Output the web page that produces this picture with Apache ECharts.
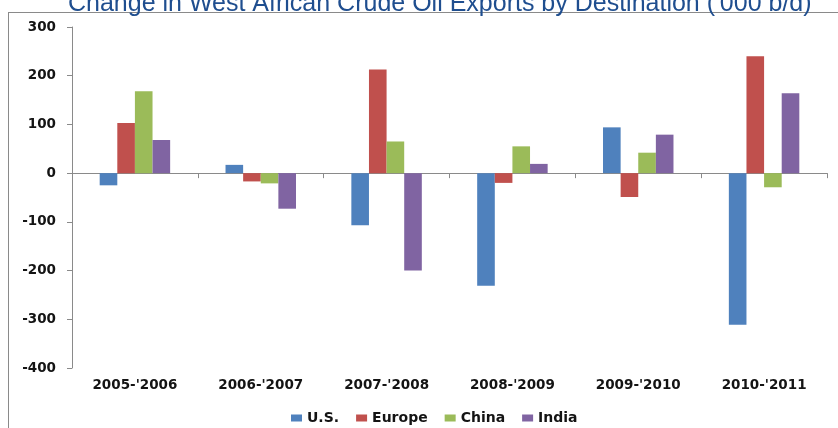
<!DOCTYPE html>
<html>
<head>
<meta charset="utf-8">
<script src="https://cdn.jsdelivr.net/npm/echarts@6/dist/echarts.min.js"></script>
<style>
  html, body { margin: 0; padding: 0; background: #fff; }
  #chart { width: 838px; height: 428px; }
</style>
</head>
<body>
<div id="chart"></div>
<script>
// Year-over-year change in exports, thousand barrels per day
const periods = ["2005-'2006", "2006-'2007", "2007-'2008", "2008-'2009", "2009-'2010", "2010-'2011"];
const usValues     = [-25,  17, -107, -231,  94, -311];
const europeValues = [103, -17,  213,  -20, -49,  240];
const chinaValues  = [168, -21,   65,   55,  42,  -29];
const indiaValues  = [ 68, -73, -200,   19,  79,  164];
const seriesNames  = ['U.S.', 'Europe', 'China', 'India'];
const seriesColors = ['#4F81BD', '#C0504D', '#9BBB59', '#8064A2'];

const chart = echarts.init(document.getElementById('chart'), null, { renderer: 'canvas' });
const labelFont = { fontFamily: '"DejaVu Sans", Verdana, sans-serif', fontWeight: 'bold', fontSize: 13.5, color: '#141414' };
const values = [usValues, europeValues, chinaValues, indiaValues];

chart.setOption({
  animation: false,
  backgroundColor: '#ffffff',
  title: {
    text: "Change in West African Crude Oil Exports by Destination ('000 b/d)",
    left: 63,
    top: -13,
    textStyle: { fontFamily: '"Liberation Sans", Arial, sans-serif', fontWeight: 'normal', fontSize: 25, color: '#1F4E8F' }
  },
  graphic: [
    { type: 'line', shape: { x1: 8, y1: 12.5, x2: 838, y2: 12.5 }, style: { stroke: '#8a8a8a', lineWidth: 1 }, silent: true },
    { type: 'line', shape: { x1: 8.5, y1: 12, x2: 8.5, y2: 428 }, style: { stroke: '#8a8a8a', lineWidth: 1 }, silent: true }
  ],
  legend: {
    data: seriesNames,
    top: 406,
    left: 286,
    itemWidth: 11,
    itemHeight: 7,
    itemGap: 17,
    icon: 'rect',
    textStyle: Object.assign({}, labelFont, { fontSize: 14, padding: [0, 0, 0, 0] })
  },
  grid: { left: 72, right: 11, top: 27, bottom: 60, containLabel: false },
  xAxis: [
    {
      type: 'category',
      data: periods,
      position: 'bottom',
      axisLine: { show: false, onZero: false },
      axisTick: { show: false },
      axisLabel: Object.assign({ margin: 10 }, labelFont)
    },
    {
      type: 'category',
      data: periods,
      position: 'top',
      axisLine: { show: true, onZero: true, lineStyle: { color: '#8a8a8a', width: 1 } },
      axisTick: { show: true, inside: true, length: 5, lineStyle: { color: '#8a8a8a' } },
      axisLabel: { show: false }
    }
  ],
  yAxis: {
    type: 'value',
    min: -400,
    max: 300,
    interval: 100,
    axisLine: { show: true, lineStyle: { color: '#8a8a8a', width: 1 } },
    axisTick: { show: true, length: 5, lineStyle: { color: '#8a8a8a' } },
    splitLine: { show: false },
    axisLabel: Object.assign({ margin: 16 }, labelFont)
  },
  series: seriesNames.map((name, i) => ({
    name: name,
    type: 'bar',
    xAxisIndex: 0,
    data: values[i],
    barGap: 0,
    barCategoryGap: '44%',
    itemStyle: { color: seriesColors[i] }
  }))
});
</script>
</body>
</html>
